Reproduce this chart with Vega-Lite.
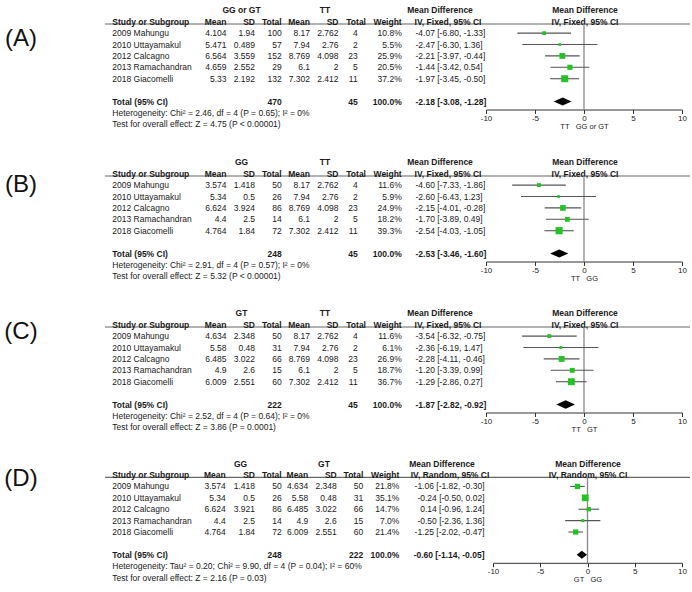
{
  "$schema": "https://vega.github.io/schema/vega-lite/v6.json",
  "width": 692,
  "height": 592,
  "autosize": {"type": "none"},
  "padding": 0,
  "background": "white",
  "config": {
    "font": "Liberation Sans",
    "view": {"stroke": null},
    "text": {"fontSize": 8.5, "color": "#1a1a1a"},
    "axis": {"grid": false, "domainColor": "#333", "tickColor": "#333", "tickSize": 4, "labelFont": "Liberation Sans", "labelFontSize": 8, "labelColor": "#222", "labelPadding": 1, "titleFont": "Liberation Sans", "titleFontSize": 7.5, "titleFontWeight": "normal", "titleColor": "#222", "titlePadding": 0, "labelFlush": false, "labelOverlap": false}
  },
  "datasets": {
    "cells": [
      {"p":"A","l":0,"c":3,"t":"GG or GT"},{"p":"A","l":0,"c":7,"t":"TT"},{"p":"A","l":0,"c":12,"t":"Mean Difference"},{"p":"A","l":0,"c":14,"t":"Mean Difference"},
      {"p":"A","l":1,"c":1,"t":"Study or Subgroup"},{"p":"A","l":1,"c":2,"t":"Mean"},{"p":"A","l":1,"c":4,"t":"SD"},{"p":"A","l":1,"c":5,"t":"Total"},{"p":"A","l":1,"c":6,"t":"Mean"},{"p":"A","l":1,"c":8,"t":"SD"},{"p":"A","l":1,"c":16,"t":"Total"},{"p":"A","l":1,"c":10,"t":"Weight"},{"p":"A","l":1,"c":13,"t":"IV, Fixed, 95% CI"},{"p":"A","l":1,"c":14,"t":"IV, Fixed, 95% CI"},
      {"p":"A","l":2,"c":1,"t":"2009 Mahungu"},{"p":"A","l":2,"c":2,"t":"4.104"},{"p":"A","l":2,"c":4,"t":"1.94"},{"p":"A","l":2,"c":5,"t":"100"},{"p":"A","l":2,"c":6,"t":"8.17"},{"p":"A","l":2,"c":8,"t":"2.762"},{"p":"A","l":2,"c":9,"t":"4"},{"p":"A","l":2,"c":10,"t":"10.8%"},{"p":"A","l":2,"c":11,"t":"-4.07 [-6.80, -1.33]"},
      {"p":"A","l":3,"c":1,"t":"2010 Uttayamakul"},{"p":"A","l":3,"c":2,"t":"5.471"},{"p":"A","l":3,"c":4,"t":"0.489"},{"p":"A","l":3,"c":5,"t":"57"},{"p":"A","l":3,"c":6,"t":"7.94"},{"p":"A","l":3,"c":8,"t":"2.76"},{"p":"A","l":3,"c":9,"t":"2"},{"p":"A","l":3,"c":10,"t":"5.5%"},{"p":"A","l":3,"c":11,"t":"-2.47 [-6.30, 1.36]"},
      {"p":"A","l":4,"c":1,"t":"2012 Calcagno"},{"p":"A","l":4,"c":2,"t":"6.564"},{"p":"A","l":4,"c":4,"t":"3.559"},{"p":"A","l":4,"c":5,"t":"152"},{"p":"A","l":4,"c":6,"t":"8.769"},{"p":"A","l":4,"c":8,"t":"4.098"},{"p":"A","l":4,"c":9,"t":"23"},{"p":"A","l":4,"c":10,"t":"25.9%"},{"p":"A","l":4,"c":11,"t":"-2.21 [-3.97, -0.44]"},
      {"p":"A","l":5,"c":1,"t":"2013 Ramachandran"},{"p":"A","l":5,"c":2,"t":"4.659"},{"p":"A","l":5,"c":4,"t":"2.552"},{"p":"A","l":5,"c":5,"t":"29"},{"p":"A","l":5,"c":6,"t":"6.1"},{"p":"A","l":5,"c":8,"t":"2"},{"p":"A","l":5,"c":9,"t":"5"},{"p":"A","l":5,"c":10,"t":"20.5%"},{"p":"A","l":5,"c":11,"t":"-1.44 [-3.42, 0.54]"},
      {"p":"A","l":6,"c":1,"t":"2018 Giacomelli"},{"p":"A","l":6,"c":2,"t":"5.33"},{"p":"A","l":6,"c":4,"t":"2.192"},{"p":"A","l":6,"c":5,"t":"132"},{"p":"A","l":6,"c":6,"t":"7.302"},{"p":"A","l":6,"c":8,"t":"2.412"},{"p":"A","l":6,"c":9,"t":"11"},{"p":"A","l":6,"c":10,"t":"37.2%"},{"p":"A","l":6,"c":11,"t":"-1.97 [-3.45, -0.50]"},
      {"p":"A","l":8,"c":1,"t":"Total (95% CI)"},{"p":"A","l":8,"c":5,"t":"470"},{"p":"A","l":8,"c":9,"t":"45"},{"p":"A","l":8,"c":10,"t":"100.0%"},{"p":"A","l":8,"c":11,"t":"-2.18 [-3.08, -1.28]"},
      {"p":"A","l":9,"c":1,"t":"Heterogeneity: Chi² = 2.46, df = 4 (P = 0.65); I² = 0%"},
      {"p":"A","l":10,"c":1,"t":"Test for overall effect: Z = 4.75 (P < 0.00001)"},

      {"p":"B","l":0,"c":3,"t":"GG"},{"p":"B","l":0,"c":7,"t":"TT"},{"p":"B","l":0,"c":12,"t":"Mean Difference"},{"p":"B","l":0,"c":14,"t":"Mean Difference"},
      {"p":"B","l":1,"c":1,"t":"Study or Subgroup"},{"p":"B","l":1,"c":2,"t":"Mean"},{"p":"B","l":1,"c":4,"t":"SD"},{"p":"B","l":1,"c":5,"t":"Total"},{"p":"B","l":1,"c":6,"t":"Mean"},{"p":"B","l":1,"c":8,"t":"SD"},{"p":"B","l":1,"c":16,"t":"Total"},{"p":"B","l":1,"c":10,"t":"Weight"},{"p":"B","l":1,"c":13,"t":"IV, Fixed, 95% CI"},{"p":"B","l":1,"c":14,"t":"IV, Fixed, 95% CI"},
      {"p":"B","l":2,"c":1,"t":"2009 Mahungu"},{"p":"B","l":2,"c":2,"t":"3.574"},{"p":"B","l":2,"c":4,"t":"1.418"},{"p":"B","l":2,"c":5,"t":"50"},{"p":"B","l":2,"c":6,"t":"8.17"},{"p":"B","l":2,"c":8,"t":"2.762"},{"p":"B","l":2,"c":9,"t":"4"},{"p":"B","l":2,"c":10,"t":"11.6%"},{"p":"B","l":2,"c":11,"t":"-4.60 [-7.33, -1.86]"},
      {"p":"B","l":3,"c":1,"t":"2010 Uttayamakul"},{"p":"B","l":3,"c":2,"t":"5.34"},{"p":"B","l":3,"c":4,"t":"0.5"},{"p":"B","l":3,"c":5,"t":"26"},{"p":"B","l":3,"c":6,"t":"7.94"},{"p":"B","l":3,"c":8,"t":"2.76"},{"p":"B","l":3,"c":9,"t":"2"},{"p":"B","l":3,"c":10,"t":"5.9%"},{"p":"B","l":3,"c":11,"t":"-2.60 [-6.43, 1.23]"},
      {"p":"B","l":4,"c":1,"t":"2012 Calcagno"},{"p":"B","l":4,"c":2,"t":"6.624"},{"p":"B","l":4,"c":4,"t":"3.924"},{"p":"B","l":4,"c":5,"t":"86"},{"p":"B","l":4,"c":6,"t":"8.769"},{"p":"B","l":4,"c":8,"t":"4.098"},{"p":"B","l":4,"c":9,"t":"23"},{"p":"B","l":4,"c":10,"t":"24.9%"},{"p":"B","l":4,"c":11,"t":"-2.15 [-4.01, -0.28]"},
      {"p":"B","l":5,"c":1,"t":"2013 Ramachandran"},{"p":"B","l":5,"c":2,"t":"4.4"},{"p":"B","l":5,"c":4,"t":"2.5"},{"p":"B","l":5,"c":5,"t":"14"},{"p":"B","l":5,"c":6,"t":"6.1"},{"p":"B","l":5,"c":8,"t":"2"},{"p":"B","l":5,"c":9,"t":"5"},{"p":"B","l":5,"c":10,"t":"18.2%"},{"p":"B","l":5,"c":11,"t":"-1.70 [-3.89, 0.49]"},
      {"p":"B","l":6,"c":1,"t":"2018 Giacomelli"},{"p":"B","l":6,"c":2,"t":"4.764"},{"p":"B","l":6,"c":4,"t":"1.84"},{"p":"B","l":6,"c":5,"t":"72"},{"p":"B","l":6,"c":6,"t":"7.302"},{"p":"B","l":6,"c":8,"t":"2.412"},{"p":"B","l":6,"c":9,"t":"11"},{"p":"B","l":6,"c":10,"t":"39.3%"},{"p":"B","l":6,"c":11,"t":"-2.54 [-4.03, -1.05]"},
      {"p":"B","l":8,"c":1,"t":"Total (95% CI)"},{"p":"B","l":8,"c":5,"t":"248"},{"p":"B","l":8,"c":9,"t":"45"},{"p":"B","l":8,"c":10,"t":"100.0%"},{"p":"B","l":8,"c":11,"t":"-2.53 [-3.46, -1.60]"},
      {"p":"B","l":9,"c":1,"t":"Heterogeneity: Chi² = 2.91, df = 4 (P = 0.57); I² = 0%"},
      {"p":"B","l":10,"c":1,"t":"Test for overall effect: Z = 5.32 (P < 0.00001)"},

      {"p":"C","l":0,"c":3,"t":"GT"},{"p":"C","l":0,"c":7,"t":"TT"},{"p":"C","l":0,"c":12,"t":"Mean Difference"},{"p":"C","l":0,"c":14,"t":"Mean Difference"},
      {"p":"C","l":1,"c":1,"t":"Study or Subgroup"},{"p":"C","l":1,"c":2,"t":"Mean"},{"p":"C","l":1,"c":4,"t":"SD"},{"p":"C","l":1,"c":5,"t":"Total"},{"p":"C","l":1,"c":6,"t":"Mean"},{"p":"C","l":1,"c":8,"t":"SD"},{"p":"C","l":1,"c":16,"t":"Total"},{"p":"C","l":1,"c":10,"t":"Weight"},{"p":"C","l":1,"c":13,"t":"IV, Fixed, 95% CI"},{"p":"C","l":1,"c":14,"t":"IV, Fixed, 95% CI"},
      {"p":"C","l":2,"c":1,"t":"2009 Mahungu"},{"p":"C","l":2,"c":2,"t":"4.634"},{"p":"C","l":2,"c":4,"t":"2.348"},{"p":"C","l":2,"c":5,"t":"50"},{"p":"C","l":2,"c":6,"t":"8.17"},{"p":"C","l":2,"c":8,"t":"2.762"},{"p":"C","l":2,"c":9,"t":"4"},{"p":"C","l":2,"c":10,"t":"11.6%"},{"p":"C","l":2,"c":11,"t":"-3.54 [-6.32, -0.75]"},
      {"p":"C","l":3,"c":1,"t":"2010 Uttayamakul"},{"p":"C","l":3,"c":2,"t":"5.58"},{"p":"C","l":3,"c":4,"t":"0.48"},{"p":"C","l":3,"c":5,"t":"31"},{"p":"C","l":3,"c":6,"t":"7.94"},{"p":"C","l":3,"c":8,"t":"2.76"},{"p":"C","l":3,"c":9,"t":"2"},{"p":"C","l":3,"c":10,"t":"6.1%"},{"p":"C","l":3,"c":11,"t":"-2.36 [-6.19, 1.47]"},
      {"p":"C","l":4,"c":1,"t":"2012 Calcagno"},{"p":"C","l":4,"c":2,"t":"6.485"},{"p":"C","l":4,"c":4,"t":"3.022"},{"p":"C","l":4,"c":5,"t":"66"},{"p":"C","l":4,"c":6,"t":"8.769"},{"p":"C","l":4,"c":8,"t":"4.098"},{"p":"C","l":4,"c":9,"t":"23"},{"p":"C","l":4,"c":10,"t":"26.9%"},{"p":"C","l":4,"c":11,"t":"-2.28 [-4.11, -0.46]"},
      {"p":"C","l":5,"c":1,"t":"2013 Ramachandran"},{"p":"C","l":5,"c":2,"t":"4.9"},{"p":"C","l":5,"c":4,"t":"2.6"},{"p":"C","l":5,"c":5,"t":"15"},{"p":"C","l":5,"c":6,"t":"6.1"},{"p":"C","l":5,"c":8,"t":"2"},{"p":"C","l":5,"c":9,"t":"5"},{"p":"C","l":5,"c":10,"t":"18.7%"},{"p":"C","l":5,"c":11,"t":"-1.20 [-3.39, 0.99]"},
      {"p":"C","l":6,"c":1,"t":"2018 Giacomelli"},{"p":"C","l":6,"c":2,"t":"6.009"},{"p":"C","l":6,"c":4,"t":"2.551"},{"p":"C","l":6,"c":5,"t":"60"},{"p":"C","l":6,"c":6,"t":"7.302"},{"p":"C","l":6,"c":8,"t":"2.412"},{"p":"C","l":6,"c":9,"t":"11"},{"p":"C","l":6,"c":10,"t":"36.7%"},{"p":"C","l":6,"c":11,"t":"-1.29 [-2.86, 0.27]"},
      {"p":"C","l":8,"c":1,"t":"Total (95% CI)"},{"p":"C","l":8,"c":5,"t":"222"},{"p":"C","l":8,"c":9,"t":"45"},{"p":"C","l":8,"c":10,"t":"100.0%"},{"p":"C","l":8,"c":11,"t":"-1.87 [-2.82, -0.92]"},
      {"p":"C","l":9,"c":1,"t":"Heterogeneity: Chi² = 2.52, df = 4 (P = 0.64); I² = 0%"},
      {"p":"C","l":10,"c":1,"t":"Test for overall effect: Z = 3.86 (P = 0.0001)"},

      {"p":"D","l":0,"c":3,"t":"GG"},{"p":"D","l":0,"c":7,"t":"GT"},{"p":"D","l":0,"c":12,"t":"Mean Difference"},{"p":"D","l":0,"c":14,"t":"Mean Difference"},
      {"p":"D","l":1,"c":1,"t":"Study or Subgroup"},{"p":"D","l":1,"c":2,"t":"Mean"},{"p":"D","l":1,"c":4,"t":"SD"},{"p":"D","l":1,"c":5,"t":"Total"},{"p":"D","l":1,"c":6,"t":"Mean"},{"p":"D","l":1,"c":8,"t":"SD"},{"p":"D","l":1,"c":16,"t":"Total"},{"p":"D","l":1,"c":10,"t":"Weight"},{"p":"D","l":1,"c":13,"t":"IV, Random, 95% CI"},{"p":"D","l":1,"c":14,"t":"IV, Random, 95% CI"},
      {"p":"D","l":2,"c":1,"t":"2009 Mahungu"},{"p":"D","l":2,"c":2,"t":"3.574"},{"p":"D","l":2,"c":4,"t":"1.418"},{"p":"D","l":2,"c":5,"t":"50"},{"p":"D","l":2,"c":6,"t":"4.634"},{"p":"D","l":2,"c":8,"t":"2.348"},{"p":"D","l":2,"c":9,"t":"50"},{"p":"D","l":2,"c":10,"t":"21.8%"},{"p":"D","l":2,"c":11,"t":"-1.06 [-1.82, -0.30]"},
      {"p":"D","l":3,"c":1,"t":"2010 Uttayamakul"},{"p":"D","l":3,"c":2,"t":"5.34"},{"p":"D","l":3,"c":4,"t":"0.5"},{"p":"D","l":3,"c":5,"t":"26"},{"p":"D","l":3,"c":6,"t":"5.58"},{"p":"D","l":3,"c":8,"t":"0.48"},{"p":"D","l":3,"c":9,"t":"31"},{"p":"D","l":3,"c":10,"t":"35.1%"},{"p":"D","l":3,"c":11,"t":"-0.24 [-0.50, 0.02]"},
      {"p":"D","l":4,"c":1,"t":"2012 Calcagno"},{"p":"D","l":4,"c":2,"t":"6.624"},{"p":"D","l":4,"c":4,"t":"3.921"},{"p":"D","l":4,"c":5,"t":"86"},{"p":"D","l":4,"c":6,"t":"6.485"},{"p":"D","l":4,"c":8,"t":"3.022"},{"p":"D","l":4,"c":9,"t":"66"},{"p":"D","l":4,"c":10,"t":"14.7%"},{"p":"D","l":4,"c":11,"t":"0.14 [-0.96, 1.24]"},
      {"p":"D","l":5,"c":1,"t":"2013 Ramachandran"},{"p":"D","l":5,"c":2,"t":"4.4"},{"p":"D","l":5,"c":4,"t":"2.5"},{"p":"D","l":5,"c":5,"t":"14"},{"p":"D","l":5,"c":6,"t":"4.9"},{"p":"D","l":5,"c":8,"t":"2.6"},{"p":"D","l":5,"c":9,"t":"15"},{"p":"D","l":5,"c":10,"t":"7.0%"},{"p":"D","l":5,"c":11,"t":"-0.50 [-2.36, 1.36]"},
      {"p":"D","l":6,"c":1,"t":"2018 Giacomelli"},{"p":"D","l":6,"c":2,"t":"4.764"},{"p":"D","l":6,"c":4,"t":"1.84"},{"p":"D","l":6,"c":5,"t":"72"},{"p":"D","l":6,"c":6,"t":"6.009"},{"p":"D","l":6,"c":8,"t":"2.551"},{"p":"D","l":6,"c":9,"t":"60"},{"p":"D","l":6,"c":10,"t":"21.4%"},{"p":"D","l":6,"c":11,"t":"-1.25 [-2.02, -0.47]"},
      {"p":"D","l":8,"c":1,"t":"Total (95% CI)"},{"p":"D","l":8,"c":5,"t":"248"},{"p":"D","l":8,"c":9,"t":"222"},{"p":"D","l":8,"c":10,"t":"100.0%"},{"p":"D","l":8,"c":11,"t":"-0.60 [-1.14, -0.05]"},
      {"p":"D","l":9,"c":1,"t":"Heterogeneity: Tau² = 0.20; Chi² = 9.90, df = 4 (P = 0.04); I² = 60%"},
      {"p":"D","l":10,"c":1,"t":"Test for overall effect: Z = 2.16 (P = 0.03)"}
    ],
    "forest": [
      {"p":"A","l":2,"md":-4.07,"lo":-6.80,"hi":-1.33,"w":10.8},
      {"p":"A","l":3,"md":-2.47,"lo":-6.30,"hi":1.36,"w":5.5},
      {"p":"A","l":4,"md":-2.21,"lo":-3.97,"hi":-0.44,"w":25.9},
      {"p":"A","l":5,"md":-1.44,"lo":-3.42,"hi":0.54,"w":20.5},
      {"p":"A","l":6,"md":-1.97,"lo":-3.45,"hi":-0.50,"w":37.2},
      {"p":"A","l":8,"md":-2.18,"lo":-3.08,"hi":-1.28,"w":100},
      {"p":"B","l":2,"md":-4.60,"lo":-7.33,"hi":-1.86,"w":11.6},
      {"p":"B","l":3,"md":-2.60,"lo":-6.43,"hi":1.23,"w":5.9},
      {"p":"B","l":4,"md":-2.15,"lo":-4.01,"hi":-0.28,"w":24.9},
      {"p":"B","l":5,"md":-1.70,"lo":-3.89,"hi":0.49,"w":18.2},
      {"p":"B","l":6,"md":-2.54,"lo":-4.03,"hi":-1.05,"w":39.3},
      {"p":"B","l":8,"md":-2.53,"lo":-3.46,"hi":-1.60,"w":100},
      {"p":"C","l":2,"md":-3.54,"lo":-6.32,"hi":-0.75,"w":11.6},
      {"p":"C","l":3,"md":-2.36,"lo":-6.19,"hi":1.47,"w":6.1},
      {"p":"C","l":4,"md":-2.28,"lo":-4.11,"hi":-0.46,"w":26.9},
      {"p":"C","l":5,"md":-1.20,"lo":-3.39,"hi":0.99,"w":18.7},
      {"p":"C","l":6,"md":-1.29,"lo":-2.86,"hi":0.27,"w":36.7},
      {"p":"C","l":8,"md":-1.87,"lo":-2.82,"hi":-0.92,"w":100},
      {"p":"D","l":2,"md":-1.06,"lo":-1.82,"hi":-0.30,"w":21.8},
      {"p":"D","l":3,"md":-0.24,"lo":-0.50,"hi":0.02,"w":35.1},
      {"p":"D","l":4,"md":0.14,"lo":-0.96,"hi":1.24,"w":14.7},
      {"p":"D","l":5,"md":-0.50,"lo":-2.36,"hi":1.36,"w":7.0},
      {"p":"D","l":6,"md":-1.25,"lo":-2.02,"hi":-0.47,"w":21.4},
      {"p":"D","l":8,"md":-0.60,"lo":-1.14,"hi":-0.05,"w":100}
    ]
  },
  "layer": [
    {
      "data": {"values": [{"panel": "(A)"}, {"panel": "(B)"}, {"panel": "(C)"}, {"panel": "(D)"}]},
      "mark": {"type": "text", "fontSize": 24, "align": "center", "baseline": "middle", "color": "#111"},
      "encoding": {
        "text": {"field": "panel"},
        "x": {"field": "panel", "type": "nominal", "scale": {"type": "point", "range": [21, 21], "padding": 0}, "axis": null},
        "y": {"field": "panel", "type": "nominal", "scale": {"type": "point", "range": [38.5, 479], "padding": 0}, "axis": null}
      }
    },
    {
      "encoding": {"y": {"field": "l", "type": "quantitative", "scale": {"domain": [1.2, 8.7], "range": [24, 109.5], "nice": false, "zero": false}, "axis": null}},
      "resolve": {"scale": {"x": "independent"}},
      "layer": [
        {
          "data": {"name": "cells"},
          "transform": [{"filter": "datum.p == 'A'"}],
          "encoding": {
            "x": {"field": "c", "type": "quantitative", "scale": {"domain": [0,1,2,3,4,5,6,7,8,9,10,11,12,13,14,15,16], "range": [105,112.3,226.5,241.5,255,281.7,310,325,338.5,357.7,401.7,415.5,440,448,585,690,366], "nice": false, "zero": false}, "axis": null},
            "text": {"field": "t"}
          },
          "layer": [
            {"transform": [{"filter": "datum.l == 1 && datum.c == 1"}], "mark": {"type": "rule", "color": "#666", "strokeWidth": 1.2}, "encoding": {"x": {"datum": 0, "type": "quantitative", "axis": null}, "x2": {"datum": 15}, "y": {"datum": 1.2, "type": "quantitative", "axis": null}}},
            {"transform": [{"filter": "indexof([1,11], datum.c) >= 0 && !(datum.l <= 1 || datum.l == 8)"}], "mark": {"type": "text", "align": "left", "baseline": "middle"}},
            {"transform": [{"filter": "indexof([1,11], datum.c) >= 0 && (datum.l <= 1 || datum.l == 8)"}], "mark": {"type": "text", "align": "left", "baseline": "middle", "fontWeight": "bold"}},
            {"transform": [{"filter": "indexof([2,4,5,6,8,9,10,16], datum.c) >= 0 && !(datum.l <= 1 || datum.l == 8)"}], "mark": {"type": "text", "align": "right", "baseline": "middle"}},
            {"transform": [{"filter": "indexof([2,4,5,6,8,9,10,16], datum.c) >= 0 && (datum.l <= 1 || datum.l == 8)"}], "mark": {"type": "text", "align": "right", "baseline": "middle", "fontWeight": "bold"}},
            {"transform": [{"filter": "indexof([3,7,12,13,14], datum.c) >= 0"}], "mark": {"type": "text", "align": "center", "baseline": "middle", "fontWeight": "bold"}}
          ]
        },
        {
          "data": {"name": "forest"},
          "transform": [{"filter": "datum.p == 'A'"}],
          "encoding": {"x": {"field": "md", "type": "quantitative", "title": "TT\u00a0\u00a0\u00a0GG or GT", "scale": {"domain": [-10, 10], "range": [486, 682], "nice": false, "zero": false}, "axis": {"orient": "bottom", "offset": -482.5, "values": [-10, -5, 0, 5, 10], "labelExpr": "'' + datum.value"}}},
          "layer": [
            {"transform": [{"filter": "datum.l == 8"}], "mark": {"type": "rule", "color": "#888", "strokeWidth": 1.3}, "encoding": {"x": {"datum": 0, "type": "quantitative", "title": "TT\u00a0\u00a0\u00a0GG or GT"}, "y": {"datum": 1.2, "type": "quantitative", "axis": null}, "y2": {"datum": 8.7}}},
            {"transform": [{"filter": "datum.l < 8"}], "mark": {"type": "rule", "color": "#555", "strokeWidth": 1.1}, "encoding": {"x": {"field": "lo", "type": "quantitative", "title": "TT\u00a0\u00a0\u00a0GG or GT"}, "x2": {"field": "hi"}}},
            {"transform": [{"filter": "datum.l < 8"}], "mark": {"type": "point", "shape": "square", "filled": true, "color": "#22c322", "opacity": 1}, "encoding": {"size": {"field": "w", "type": "quantitative", "scale": {"domain": [0, 40], "range": [0, 52]}, "legend": null}}},
            {"transform": [{"filter": "datum.l == 8"}], "mark": {"type": "point", "shape": "M-1,0L0,-0.45L1,0L0,0.45Z", "filled": true, "color": "#000", "opacity": 1, "size": 310}}
          ]
        }
      ]
    },
    {
      "encoding": {"y": {"field": "l", "type": "quantitative", "scale": {"domain": [1.2, 8.7], "range": [176, 261.5], "nice": false, "zero": false}, "axis": null}},
      "resolve": {"scale": {"x": "independent"}},
      "layer": [
        {
          "data": {"name": "cells"},
          "transform": [{"filter": "datum.p == 'B'"}],
          "encoding": {
            "x": {"field": "c", "type": "quantitative", "scale": {"domain": [0,1,2,3,4,5,6,7,8,9,10,11,12,13,14,15,16], "range": [105,112.3,226.5,241.5,255,281.7,310,325,338.5,357.7,401.7,415.5,440,448,585,690,366], "nice": false, "zero": false}, "axis": null},
            "text": {"field": "t"}
          },
          "layer": [
            {"transform": [{"filter": "datum.l == 1 && datum.c == 1"}], "mark": {"type": "rule", "color": "#666", "strokeWidth": 1.2}, "encoding": {"x": {"datum": 0, "type": "quantitative", "axis": null}, "x2": {"datum": 15}, "y": {"datum": 1.2, "type": "quantitative", "axis": null}}},
            {"transform": [{"filter": "indexof([1,11], datum.c) >= 0 && !(datum.l <= 1 || datum.l == 8)"}], "mark": {"type": "text", "align": "left", "baseline": "middle"}},
            {"transform": [{"filter": "indexof([1,11], datum.c) >= 0 && (datum.l <= 1 || datum.l == 8)"}], "mark": {"type": "text", "align": "left", "baseline": "middle", "fontWeight": "bold"}},
            {"transform": [{"filter": "indexof([2,4,5,6,8,9,10,16], datum.c) >= 0 && !(datum.l <= 1 || datum.l == 8)"}], "mark": {"type": "text", "align": "right", "baseline": "middle"}},
            {"transform": [{"filter": "indexof([2,4,5,6,8,9,10,16], datum.c) >= 0 && (datum.l <= 1 || datum.l == 8)"}], "mark": {"type": "text", "align": "right", "baseline": "middle", "fontWeight": "bold"}},
            {"transform": [{"filter": "indexof([3,7,12,13,14], datum.c) >= 0"}], "mark": {"type": "text", "align": "center", "baseline": "middle", "fontWeight": "bold"}}
          ]
        },
        {
          "data": {"name": "forest"},
          "transform": [{"filter": "datum.p == 'B'"}],
          "encoding": {"x": {"field": "md", "type": "quantitative", "title": "TT\u00a0\u00a0\u00a0GG", "scale": {"domain": [-10, 10], "range": [486, 682], "nice": false, "zero": false}, "axis": {"orient": "bottom", "offset": -330.5, "values": [-10, -5, 0, 5, 10], "labelExpr": "'' + datum.value"}}},
          "layer": [
            {"transform": [{"filter": "datum.l == 8"}], "mark": {"type": "rule", "color": "#888", "strokeWidth": 1.3}, "encoding": {"x": {"datum": 0, "type": "quantitative", "title": "TT\u00a0\u00a0\u00a0GG"}, "y": {"datum": 1.2, "type": "quantitative", "axis": null}, "y2": {"datum": 8.7}}},
            {"transform": [{"filter": "datum.l < 8"}], "mark": {"type": "rule", "color": "#555", "strokeWidth": 1.1}, "encoding": {"x": {"field": "lo", "type": "quantitative", "title": "TT\u00a0\u00a0\u00a0GG"}, "x2": {"field": "hi"}}},
            {"transform": [{"filter": "datum.l < 8"}], "mark": {"type": "point", "shape": "square", "filled": true, "color": "#22c322", "opacity": 1}, "encoding": {"size": {"field": "w", "type": "quantitative", "scale": {"domain": [0, 40], "range": [0, 52]}, "legend": null}}},
            {"transform": [{"filter": "datum.l == 8"}], "mark": {"type": "point", "shape": "M-1,0L0,-0.45L1,0L0,0.45Z", "filled": true, "color": "#000", "opacity": 1, "size": 331}}
          ]
        }
      ]
    },
    {
      "encoding": {"y": {"field": "l", "type": "quantitative", "scale": {"domain": [1.2, 8.7], "range": [327, 412.5], "nice": false, "zero": false}, "axis": null}},
      "resolve": {"scale": {"x": "independent"}},
      "layer": [
        {
          "data": {"name": "cells"},
          "transform": [{"filter": "datum.p == 'C'"}],
          "encoding": {
            "x": {"field": "c", "type": "quantitative", "scale": {"domain": [0,1,2,3,4,5,6,7,8,9,10,11,12,13,14,15,16], "range": [105,112.3,226.5,241.5,255,281.7,310,325,338.5,357.7,401.7,415.5,440,448,585,690,366], "nice": false, "zero": false}, "axis": null},
            "text": {"field": "t"}
          },
          "layer": [
            {"transform": [{"filter": "datum.l == 1 && datum.c == 1"}], "mark": {"type": "rule", "color": "#666", "strokeWidth": 1.2}, "encoding": {"x": {"datum": 0, "type": "quantitative", "axis": null}, "x2": {"datum": 15}, "y": {"datum": 1.2, "type": "quantitative", "axis": null}}},
            {"transform": [{"filter": "indexof([1,11], datum.c) >= 0 && !(datum.l <= 1 || datum.l == 8)"}], "mark": {"type": "text", "align": "left", "baseline": "middle"}},
            {"transform": [{"filter": "indexof([1,11], datum.c) >= 0 && (datum.l <= 1 || datum.l == 8)"}], "mark": {"type": "text", "align": "left", "baseline": "middle", "fontWeight": "bold"}},
            {"transform": [{"filter": "indexof([2,4,5,6,8,9,10,16], datum.c) >= 0 && !(datum.l <= 1 || datum.l == 8)"}], "mark": {"type": "text", "align": "right", "baseline": "middle"}},
            {"transform": [{"filter": "indexof([2,4,5,6,8,9,10,16], datum.c) >= 0 && (datum.l <= 1 || datum.l == 8)"}], "mark": {"type": "text", "align": "right", "baseline": "middle", "fontWeight": "bold"}},
            {"transform": [{"filter": "indexof([3,7,12,13,14], datum.c) >= 0"}], "mark": {"type": "text", "align": "center", "baseline": "middle", "fontWeight": "bold"}}
          ]
        },
        {
          "data": {"name": "forest"},
          "transform": [{"filter": "datum.p == 'C'"}],
          "encoding": {"x": {"field": "md", "type": "quantitative", "title": "TT\u00a0\u00a0\u00a0GT", "scale": {"domain": [-10, 10], "range": [486, 682], "nice": false, "zero": false}, "axis": {"orient": "bottom", "offset": -179.5, "values": [-10, -5, 0, 5, 10], "labelExpr": "'' + datum.value"}}},
          "layer": [
            {"transform": [{"filter": "datum.l == 8"}], "mark": {"type": "rule", "color": "#888", "strokeWidth": 1.3}, "encoding": {"x": {"datum": 0, "type": "quantitative", "title": "TT\u00a0\u00a0\u00a0GT"}, "y": {"datum": 1.2, "type": "quantitative", "axis": null}, "y2": {"datum": 8.7}}},
            {"transform": [{"filter": "datum.l < 8"}], "mark": {"type": "rule", "color": "#555", "strokeWidth": 1.1}, "encoding": {"x": {"field": "lo", "type": "quantitative", "title": "TT\u00a0\u00a0\u00a0GT"}, "x2": {"field": "hi"}}},
            {"transform": [{"filter": "datum.l < 8"}], "mark": {"type": "point", "shape": "square", "filled": true, "color": "#22c322", "opacity": 1}, "encoding": {"size": {"field": "w", "type": "quantitative", "scale": {"domain": [0, 40], "range": [0, 52]}, "legend": null}}},
            {"transform": [{"filter": "datum.l == 8"}], "mark": {"type": "point", "shape": "M-1,0L0,-0.45L1,0L0,0.45Z", "filled": true, "color": "#000", "opacity": 1, "size": 346}}
          ]
        }
      ]
    },
    {
      "encoding": {"y": {"field": "l", "type": "quantitative", "scale": {"domain": [1.2, 8.7], "range": [477.3, 562.8], "nice": false, "zero": false}, "axis": null}},
      "resolve": {"scale": {"x": "independent"}},
      "layer": [
        {
          "data": {"name": "cells"},
          "transform": [{"filter": "datum.p == 'D'"}],
          "encoding": {
            "x": {"field": "c", "type": "quantitative", "scale": {"domain": [0,1,2,3,4,5,6,7,8,9,10,11,12,13,14,15,16], "range": [105,112.3,225.7,240.5,255,281.7,308.3,324,336.7,363.3,399.3,484.5,442,450,588,690,363.3], "nice": false, "zero": false}, "axis": null},
            "text": {"field": "t"}
          },
          "layer": [
            {"transform": [{"filter": "datum.l == 1 && datum.c == 1"}], "mark": {"type": "rule", "color": "#666", "strokeWidth": 1.2}, "encoding": {"x": {"datum": 0, "type": "quantitative", "axis": null}, "x2": {"datum": 15}, "y": {"datum": 1.2, "type": "quantitative", "axis": null}}},
            {"transform": [{"filter": "indexof([1], datum.c) >= 0 && !(datum.l <= 1 || datum.l == 8)"}], "mark": {"type": "text", "align": "left", "baseline": "middle"}},
            {"transform": [{"filter": "indexof([1], datum.c) >= 0 && (datum.l <= 1 || datum.l == 8)"}], "mark": {"type": "text", "align": "left", "baseline": "middle", "fontWeight": "bold"}},
            {"transform": [{"filter": "indexof([2,4,5,6,8,9,10,11,16], datum.c) >= 0 && !(datum.l <= 1 || datum.l == 8)"}], "mark": {"type": "text", "align": "right", "baseline": "middle"}},
            {"transform": [{"filter": "indexof([2,4,5,6,8,9,10,11,16], datum.c) >= 0 && (datum.l <= 1 || datum.l == 8)"}], "mark": {"type": "text", "align": "right", "baseline": "middle", "fontWeight": "bold"}},
            {"transform": [{"filter": "indexof([3,7,12,13,14], datum.c) >= 0"}], "mark": {"type": "text", "align": "center", "baseline": "middle", "fontWeight": "bold"}}
          ]
        },
        {
          "data": {"name": "forest"},
          "transform": [{"filter": "datum.p == 'D'"}],
          "encoding": {"x": {"field": "md", "type": "quantitative", "title": "GT\u00a0\u00a0\u00a0GG", "scale": {"domain": [-10, 10], "range": [493, 682], "nice": false, "zero": false}, "axis": {"orient": "bottom", "offset": -29.2, "values": [-10, -5, 0, 5, 10], "labelExpr": "'' + datum.value"}}},
          "layer": [
            {"transform": [{"filter": "datum.l == 8"}], "mark": {"type": "rule", "color": "#888", "strokeWidth": 1.3}, "encoding": {"x": {"datum": 0, "type": "quantitative", "title": "GT\u00a0\u00a0\u00a0GG"}, "y": {"datum": 1.2, "type": "quantitative", "axis": null}, "y2": {"datum": 8.7}}},
            {"transform": [{"filter": "datum.l < 8"}], "mark": {"type": "rule", "color": "#555", "strokeWidth": 1.1}, "encoding": {"x": {"field": "lo", "type": "quantitative", "title": "GT\u00a0\u00a0\u00a0GG"}, "x2": {"field": "hi"}}},
            {"transform": [{"filter": "datum.l < 8"}], "mark": {"type": "point", "shape": "square", "filled": true, "color": "#22c322", "opacity": 1}, "encoding": {"size": {"field": "w", "type": "quantitative", "scale": {"domain": [0, 40], "range": [0, 52]}, "legend": null}}},
            {"transform": [{"filter": "datum.l == 8"}], "mark": {"type": "point", "shape": "M-1,0L0,-0.78L1,0L0,0.78Z", "filled": true, "color": "#000", "opacity": 1, "size": 106}}
          ]
        }
      ]
    }
  ],
  "resolve": {"scale": {"x": "independent", "y": "independent"}}
}
